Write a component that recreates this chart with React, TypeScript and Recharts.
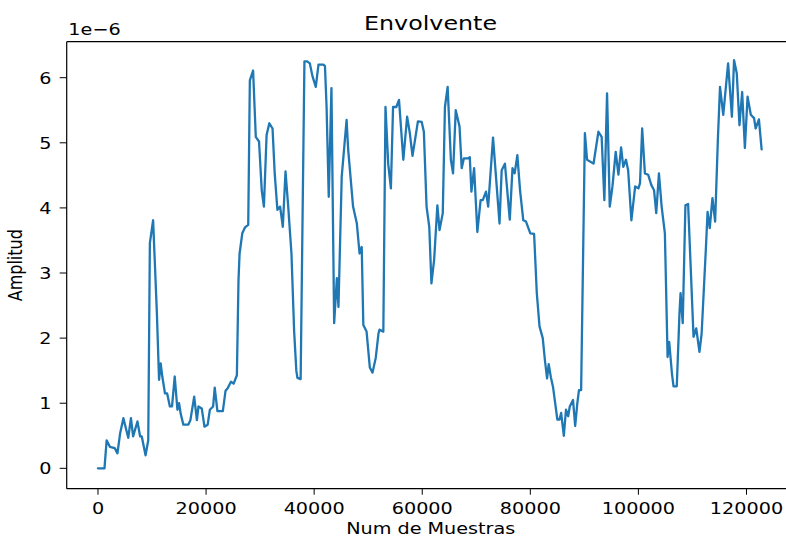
import React from "react";
import { LineChart, Line, XAxis, YAxis, ReferenceLine } from "recharts";

// Sample index (Num de Muestras)
const sampleIdx = [
  0, 1200, 1600, 2200, 3100, 3600, 4100, 4700, 5600, 6100, 6500, 7300, 7800, 8100, 8800, 9300,
  9600, 10200, 10900, 11300, 11600, 11900, 12400, 12800, 13300, 13700, 14200, 14700, 15000, 15300,
  15800, 16700, 17100, 17800, 18300, 18600, 19200, 19700, 20300, 20700, 21300, 21600, 22100, 23100,
  23600, 24000, 24600, 25100, 25700, 26000, 26200, 26700, 27200, 27800, 28100, 28700, 29200, 29800,
  30300, 30700, 31200, 31700, 32300, 32700, 33200, 33700, 34200, 34700, 35200, 35800, 36300, 36700,
  36900, 37500, 38200, 38700, 39200, 39700, 40300, 40800, 41700, 42000, 42300, 42700, 43200, 43700,
  44200, 44500, 45100, 46000, 46300, 47200, 47900, 48400, 48800, 49100, 49700, 50300, 50800, 51400,
  51900, 52100, 52800, 53200, 53700, 54200, 54600, 55200, 55700, 56500, 57200, 57700, 58200, 59200,
  59900, 60300, 60800, 61300, 61700, 62200, 62800, 63200, 63800, 64200, 64700, 65300, 65700, 66200,
  66900, 67300, 67700, 68500, 68800, 69100, 69600, 70200, 70800, 71200, 71800, 72200, 73100, 74300,
  74700, 75300, 76200, 76700, 77100, 77600, 78100, 78700, 79200, 80000, 80700, 81200, 81700, 82300,
  82700, 83100, 83400, 83800, 84200, 84600, 85000, 85400, 85700, 86200, 86600, 87000, 87300, 87900,
  88300, 88700, 89000, 89400, 90100, 90500, 91700, 92600, 93200, 93700, 94200, 94700, 95200, 95800,
  96300, 96800, 97200, 97700, 98100, 98700, 99400, 100000, 100300, 100700, 101200, 101800, 102400,
  102900, 103300, 103800, 104300, 104900, 105400, 105700, 106200, 106500, 107100, 107600, 107800,
  108200, 108700, 109200, 110200, 110700, 111300, 111700, 112500, 112800, 113200, 113700, 114200,
  114700, 115100, 115700, 116600, 117300, 117700, 118200, 118700, 119200, 119700, 120200, 120800,
  121400, 121700, 122300, 122800,
];

// Amplitud (x 1e-6)
const amplitude = [
  0, 0, 0.43, 0.33, 0.31, 0.23, 0.54, 0.77, 0.47, 0.77, 0.49, 0.72, 0.49, 0.49, 0.2, 0.43,
  3.46, 3.81, 2.38, 1.36, 1.61, 1.41, 1.15, 1.15, 0.95, 0.95, 1.41, 0.9, 1.0, 0.84,
  0.67, 0.67, 0.74, 1.1, 0.74, 0.95, 0.92, 0.64, 0.67, 0.9, 0.95, 1.24, 0.88, 0.88,
  1.19, 1.23, 1.33, 1.3, 1.43, 2.89, 3.3, 3.61, 3.7, 3.74, 5.96, 6.11, 5.09, 5.02,
  4.27, 4.02, 5.12, 5.3, 5.22, 4.53, 3.97, 4.02, 3.71, 4.56, 4.02, 3.3, 2.1, 1.5,
  1.39, 1.37, 6.25, 6.25, 6.22, 6.02, 5.86, 6.2, 6.2, 6.18, 5.55, 4.17, 5.84, 2.23,
  2.92, 2.48, 4.48, 5.35, 4.89, 4.02, 3.76, 3.3, 3.4, 2.2, 2.1, 1.55, 1.47, 1.7,
  2.07, 2.13, 2.1, 5.55, 4.68, 4.3, 5.55, 5.55, 5.66, 4.74, 5.4, 5.15, 4.8, 5.33,
  5.32, 5.17, 4.02, 3.71, 2.84, 3.2, 4.04, 3.66, 3.92, 5.55, 5.86, 4.74, 4.53, 5.5,
  5.25, 4.61, 4.76, 4.76, 4.78, 4.25, 4.61, 3.63, 4.12, 4.12, 4.25, 4.02, 5.08, 3.76,
  4.58, 4.68, 3.82, 4.61, 4.53, 4.81, 4.27, 3.81, 3.79, 3.61, 3.6, 2.69, 2.18, 2.0,
  1.66, 1.38, 1.6, 1.4, 1.25, 1.0, 0.75, 0.75, 0.85, 0.5, 0.9, 0.8, 0.95, 1.05,
  0.65, 1.0, 1.2, 1.2, 5.15, 4.74, 4.68, 5.17, 5.09, 4.12, 5.76, 4.02, 4.33, 4.86,
  4.51, 4.93, 4.63, 4.74, 4.58, 3.81, 4.33, 4.3, 4.38, 5.22, 4.53, 4.51, 4.35,
  4.27, 3.92, 4.53, 4.02, 3.61, 1.71, 1.94, 1.46, 1.26, 1.26, 2.38, 2.69,
  2.23, 4.04, 4.06, 2.02, 2.15, 1.79, 2.07, 3.4, 3.94, 3.69, 4.15, 3.79,
  5.04, 5.86, 5.43, 6.22, 5.4, 6.27, 6.07, 5.27, 5.78, 4.92, 5.71, 5.43,
  5.38, 5.22, 5.36, 4.9,
];

const xTicks = [0, 20000, 40000, 60000, 80000, 100000, 120000];
const yTicks = [0, 1, 2, 3, 4, 5, 6];
const xDomain = [-5790, 128940];
const yDomain = [-0.313, 6.553];

const title = "Envolvente";
const xLabel = "Num de Muestras";
const yLabel = "Amplitud";
const offsetText = "1e\u22126";

const data = sampleIdx.map((x, i) => ({ x, y: amplitude[i] }));

const FONT = "'DejaVu Sans', Verdana, sans-serif";
const SX = 1.2;

const XTick = (props: any) => {
  const { x, payload } = props;
  return (
    <text
      transform={`translate(${x},513.5) scale(${SX},1)`}
      textAnchor="middle"
      fontFamily={FONT}
      fontSize={16}
      fill="#000"
    >
      {payload.value}
    </text>
  );
};

const YTick = (props: any) => {
  const { y, payload } = props;
  return (
    <text
      transform={`translate(51.5,${y + 5.8}) scale(${SX},1)`}
      textAnchor="end"
      fontFamily={FONT}
      fontSize={16}
      fill="#000"
    >
      {payload.value}
    </text>
  );
};

export default function App() {
  return (
    <div
      style={{
        position: "absolute",
        left: 0,
        top: 0,
        width: 786,
        height: 538,
        overflow: "hidden",
        background: "#fff",
      }}
    >
      <LineChart
        width={800}
        height={538}
        data={data}
        margin={{ top: 41.7, right: 5.2, bottom: 0, left: 0 }}
      >
        <XAxis
          dataKey="x"
          type="number"
          domain={xDomain}
          allowDataOverflow
          ticks={xTicks}
          interval={0}
          height={49.3}
          tickSize={6}
          tick={<XTick />}
          tickLine={{ stroke: "#000", strokeWidth: 1 }}
          axisLine={{ stroke: "#000", strokeWidth: 1.2 }}
        />
        <YAxis
          type="number"
          domain={yDomain}
          allowDataOverflow
          ticks={yTicks}
          interval={0}
          width={66.7}
          tickSize={7}
          tick={<YTick />}
          tickLine={{ stroke: "#000", strokeWidth: 1 }}
          axisLine={{ stroke: "#000", strokeWidth: 1.2 }}
        />
        <ReferenceLine
          y={yDomain[1]}
          stroke="#000"
          strokeWidth={1.2}
          ifOverflow="visible"
        />
        <Line
          type="linear"
          dataKey="y"
          stroke="#1f77b4"
          strokeWidth={2.3}
          strokeLinejoin="round"
          strokeLinecap="round"
          dot={false}
          activeDot={false}
          isAnimationActive={false}
        />
      </LineChart>
      <svg
        width={786}
        height={538}
        style={{ position: "absolute", left: 0, top: 0, pointerEvents: "none" }}
      >
        <text
          transform={`translate(430.5,30) scale(1.22,1)`}
          textAnchor="middle"
          fontFamily={FONT}
          fontSize={19.5}
          fill="#000"
        >
          {title}
        </text>
        <text
          transform={`translate(68.3,35) scale(${SX},1)`}
          textAnchor="start"
          fontFamily={FONT}
          fontSize={16}
          fill="#000"
        >
          {offsetText}
        </text>
        <text
          transform={`translate(430.7,533.5) scale(${SX},1)`}
          textAnchor="middle"
          fontFamily={FONT}
          fontSize={16}
          fill="#000"
        >
          {xLabel}
        </text>
        <text
          transform={`translate(22,265.2) scale(${SX},1) rotate(-90)`}
          textAnchor="middle"
          fontFamily={FONT}
          fontSize={16}
          fill="#000"
        >
          {yLabel}
        </text>
      </svg>
    </div>
  );
}
